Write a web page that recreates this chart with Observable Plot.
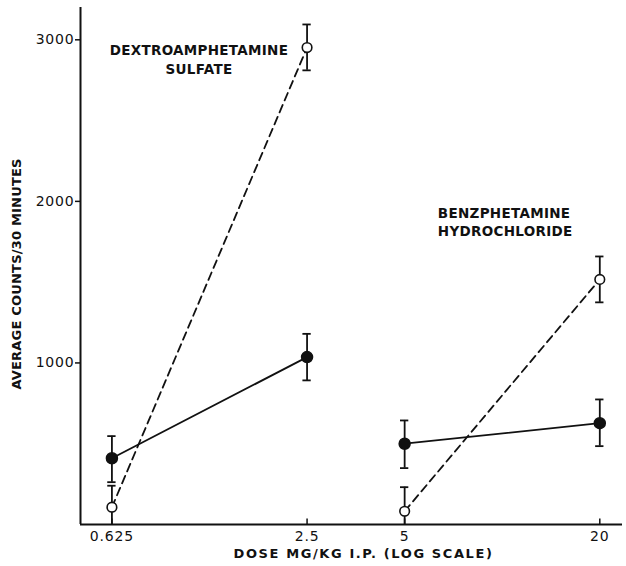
<!DOCTYPE html>
<html><head><meta charset="utf-8">
<script src="https://cdn.jsdelivr.net/npm/d3@7"></script>
<script src="https://cdn.jsdelivr.net/npm/@observablehq/plot@0.6"></script>
<style>
body{margin:0;background:#fff}
#chart svg{font-family:"DejaVu Sans",sans-serif;}
</style>
</head><body><div id="chart"></div>
<script>
// ---- data ----
const doses = [0.625, 2.5, 5, 20];
const drugs = ["DEXTROAMPHETAMINE SULFATE", "DEXTROAMPHETAMINE SULFATE", "BENZPHETAMINE HYDROCHLORIDE", "BENZPHETAMINE HYDROCHLORIDE"];
// filled circles (solid line)
const filledMean = [410, 1036, 500, 627];
const filledLow  = [262, 892, 349, 485];
const filledHigh = [547, 1180, 644, 774];
// open circles (dashed line)
const openMean = [107, 2952, 82, 1517];
const openLow  = [0, 2811, 0, 1375];
const openHigh = [240, 3095, 231, 1659];

const xTicks = [0.625, 2.5, 5, 20];
const xTickLabels = ["0.625", "2.5", "5", "20"];
const yTicks = [1000, 2000, 3000];
const xDomain = [0.5, 23.5];
const yDomain = [0, 3200];

const label1 = "DEXTROAMPHETAMINE\nSULFATE";
const label1Pos = [1.16, 2885];
const label2 = "BENZPHETAMINE\nHYDROCHLORIDE";
const label2Pos = [6.33, 1879];
const xTitle = "DOSE MG/KG I.P. (LOG SCALE)";
const yTitle = "AVERAGE COUNTS/30 MINUTES";

// ---- build tables ----
const filled = doses.map((d, i) => ({dose: d, drug: drugs[i], mean: filledMean[i], low: filledLow[i], high: filledHigh[i]}));
const open = doses.map((d, i) => ({dose: d, drug: drugs[i], mean: openMean[i], low: openLow[i], high: openHigh[i]}));
const all = filled.concat(open);
const capF = 1.03;
const caps = [];
all.forEach(r => { caps.push({dose: r.dose, y: r.high}); if (r.low > 0) caps.push({dose: r.dose, y: r.low}); });

// custom symbol: a short upward stroke (inward x tick)
const upTick = {draw(ctx) { ctx.moveTo(0, 0); ctx.lineTo(0, -6); }};

const chart = Plot.plot({
  width: 626,
  height: 566,
  marginLeft: 80,
  marginRight: 4,
  marginTop: 7,
  marginBottom: 42,
  style: {fontFamily: "DejaVu Sans", color: "#111", background: "#fff"},
  x: {type: "log", domain: xDomain},
  y: {domain: yDomain},
  marks: [
    // axis lines
    Plot.ruleX([xDomain[0]], {stroke: "#111", strokeWidth: 2}),
    Plot.ruleY([0], {stroke: "#111", strokeWidth: 2}),
    // axes
    Plot.axisY({ticks: yTicks, tickSize: 5, tickPadding: 1, tickFormat: d => String(d), fontSize: 14, label: null, strokeWidth: 1.5}),
    Plot.axisX({ticks: xTicks, tickSize: 0, tickPadding: 7, tickFormat: d => xTickLabels[xTicks.indexOf(d)], fontSize: 14, label: null}),
    // inward x tick marks
    Plot.dot(xTicks, {x: d => d, y: () => yDomain[0], symbol: upTick, r: 3, fill: "none", stroke: "#111", strokeWidth: 1.5}),
    // lines
    Plot.line(filled, {x: "dose", y: "mean", z: "drug", stroke: "#111", strokeWidth: 1.8}),
    Plot.line(open, {x: "dose", y: "mean", z: "drug", stroke: "#111", strokeWidth: 1.8, strokeDasharray: "8,5"}),
    // error bars
    Plot.ruleX(all, {x: "dose", y1: "low", y2: "high", stroke: "#111", strokeWidth: 1.8}),
    Plot.ruleY(caps, {y: "y", x1: d => d.dose / capF, x2: d => d.dose * capF, stroke: "#111", strokeWidth: 1.8}),
    // points
    Plot.dot(filled, {x: "dose", y: "mean", r: 5.5, fill: "#111", stroke: "#111"}),
    Plot.dot(open, {x: "dose", y: "mean", r: 4.8, fill: "#fff", stroke: "#111", strokeWidth: 1.6}),
    // group labels
    Plot.text([label1], {x: () => label1Pos[0], y: () => label1Pos[1], text: d => d, textAnchor: "middle", lineHeight: 1.45, fontSize: 13.5, fontWeight: "bold", className: "lab1"}),
    Plot.text([label2], {x: () => label2Pos[0], y: () => label2Pos[1], text: d => d, textAnchor: "start", lineHeight: 1.4, fontSize: 13.5, fontWeight: "bold", className: "lab2"}),
    // axis titles
    Plot.text([xTitle], {frameAnchor: "bottom", dx: 12, dy: 33, fontSize: 13, fontWeight: "bold", className: "xt"}),
    Plot.text([yTitle], {frameAnchor: "left", textAnchor: "middle", rotate: -90, dx: -64, dy: 8, fontSize: 13, fontWeight: "bold", className: "yt"})
  ]
});
// letter spacing for the typewriter-like look
chart.querySelectorAll("text").forEach(t => t.setAttribute("letter-spacing", "0.8"));
chart.querySelectorAll(".lab1 text, .lab2 text").forEach(t => t.setAttribute("letter-spacing", "0.3"));
chart.querySelectorAll(".xt text").forEach(t => t.setAttribute("letter-spacing", "1.6"));
chart.querySelectorAll(".yt text").forEach(t => t.setAttribute("letter-spacing", "0.2"));
document.getElementById("chart").appendChild(chart);
</script>
</body></html>
